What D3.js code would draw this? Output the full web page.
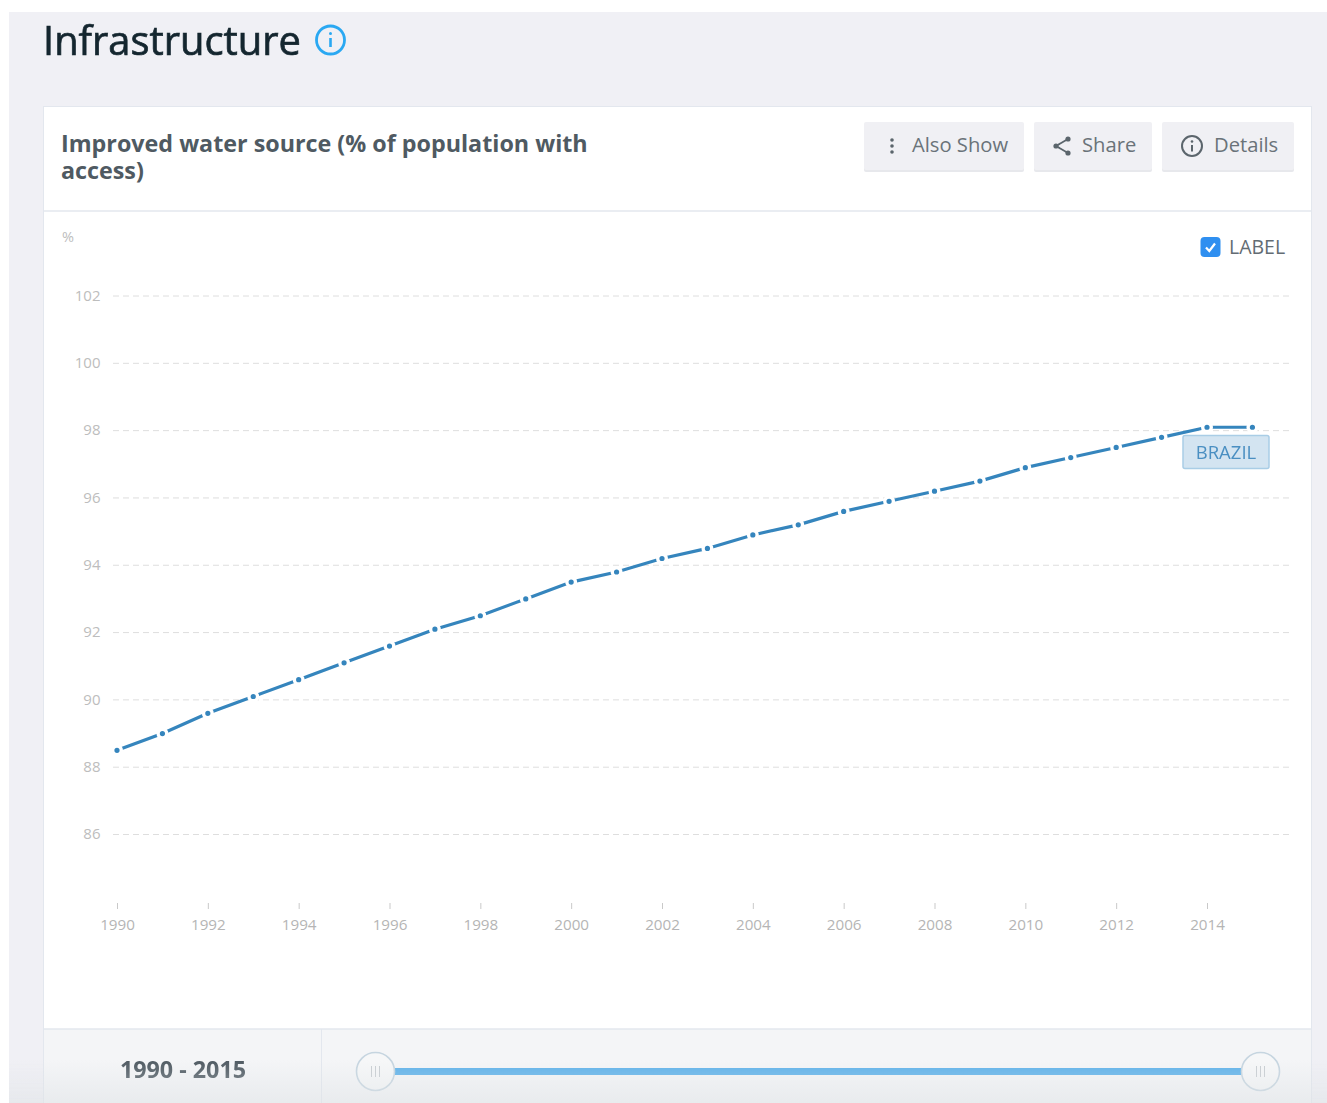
<!DOCTYPE html>
<html><head><meta charset="utf-8">
<script src="https://cdn.jsdelivr.net/npm/d3@7"></script>
<style>
html,body{margin:0;padding:0;background:#fff;overflow:hidden}
svg{display:block;font-family:"Open Sans","Noto Sans",sans-serif;filter:blur(.5px)}
.axis text{font-family:"Open Sans","Noto Sans",sans-serif}
</style></head><body><div id="chart"></div>
<script>
const pageTitle = "Infrastructure";
const titleLines = ["Improved water source (% of population with", "access)"];
const years = [1990,1991,1992,1993,1994,1995,1996,1997,1998,1999,2000,2001,2002,2003,2004,2005,2006,2007,2008,2009,2010,2011,2012,2013,2014,2015];
const values = [88.5,89.0,89.6,90.1,90.6,91.1,91.6,92.1,92.5,93.0,93.5,93.8,94.2,94.5,94.9,95.2,95.6,95.9,96.2,96.5,96.9,97.2,97.5,97.8,98.1,98.1];
const yTicks = [86,88,90,92,94,96,98,100,102];
const xTicks = [1990,1992,1994,1996,1998,2000,2002,2004,2006,2008,2010,2012,2014];
const seriesName = "BRAZIL";
const rangeLabel = "1990 - 2015";

const W=1327,H=1103;
const svg=d3.select("#chart").append("svg").attr("width",W).attr("height",H);
const defs=svg.append("defs");
const g1=defs.append("linearGradient").attr("id","fade").attr("x1",0).attr("x2",0).attr("y1",0).attr("y2",1);
g1.append("stop").attr("offset",0).attr("stop-color","#dfe3e6").attr("stop-opacity",0);
g1.append("stop").attr("offset",1).attr("stop-color","#dfe3e6").attr("stop-opacity",.55);

// page and card
svg.append("rect").attr("x",9).attr("y",12).attr("width",W-9).attr("height",H-12).attr("fill","#f0f0f5");
svg.append("text").attr("x",43).attr("y",55).attr("font-size",39.9).attr("fill","#14262f")
  .attr("stroke","#14262f").attr("stroke-width",.7).text(pageTitle);
const info=svg.append("g").attr("transform","translate(330.5,40)").attr("fill","none").attr("stroke","#2aa8f2");
info.append("circle").attr("r",14).attr("stroke-width",2.8);
info.append("line").attr("y1",-2).attr("y2",7).attr("stroke-width",2.6);
info.append("circle").attr("cy",-6.5).attr("r",1.5).attr("fill","#2aa8f2").attr("stroke","none");

svg.append("rect").attr("x",43.5).attr("y",106.5).attr("width",1268).attr("height",1010).attr("fill","#fff").attr("stroke","#e3e7ee");
svg.append("line").attr("x1",44).attr("x2",1311).attr("y1",211).attr("y2",211).attr("stroke","#e3e7ee").attr("stroke-width",1.5);
svg.append("text").attr("font-size",23.3).attr("font-weight",700).attr("fill","#4f5a62")
  .selectAll("tspan").data(titleLines).join("tspan").attr("x",61).attr("y",(d,i)=>152+i*27).text(d=>d);

// buttons
const btnX=[864,1034,1162],btnW=[160,118,132],btnT=["Also Show","Share","Details"],btnTx=[912,1082,1214];
const btnG=svg.selectAll("g.btn").data(btnT).join("g").attr("class","btn");
btnG.append("rect").attr("x",(d,i)=>btnX[i]).attr("y",124).attr("width",(d,i)=>btnW[i]).attr("height",48).attr("rx",2).attr("fill","#e7e8ec");
btnG.append("rect").attr("x",(d,i)=>btnX[i]).attr("y",122).attr("width",(d,i)=>btnW[i]).attr("height",48).attr("rx",2).attr("fill","#f0f0f4");
btnG.append("text").attr("x",(d,i)=>btnTx[i]).attr("y",152).attr("font-size",20.2).attr("fill","#6a7379").text(d=>d);
[-6,0,6].forEach(o=>svg.append("circle").attr("cx",892).attr("cy",146+o).attr("r",1.8).attr("fill","#5b656c"));
const sh=svg.append("g").attr("fill","#5b656c");
sh.append("path").attr("d","M1068,139L1056,146L1068,153").attr("fill","none").attr("stroke","#5b656c").attr("stroke-width",1.8);
[[1068,139],[1056,146],[1068,153]].forEach(p=>sh.append("circle").attr("cx",p[0]).attr("cy",p[1]).attr("r",2.6));
const di=svg.append("g").attr("transform","translate(1192,146)");
di.append("circle").attr("r",10).attr("fill","none").attr("stroke","#5b656c").attr("stroke-width",2);
di.append("line").attr("y1",-1).attr("y2",5.5).attr("stroke","#5b656c").attr("stroke-width",2);
di.append("circle").attr("cy",-4.5).attr("r",1.3).attr("fill","#5b656c");

// checkbox
svg.append("rect").attr("x",1200.5).attr("y",237).attr("width",20).attr("height",20).attr("rx",4).attr("fill","#2f8ff0");
svg.append("path").attr("d","M1206,247.5L1209.3,251L1215,243.5").attr("fill","none").attr("stroke","#fff").attr("stroke-width",2.2);
svg.append("text").attr("x",1229).attr("y",254).attr("font-size",19.5).attr("fill","#636c73").text("LABEL");

// scales
const x=d3.scaleLinear().domain([1990,2014]).range([117,1207]);
const y=d3.scaleLinear().domain([86,102]).range([834.5,296]);

const yAxis=svg.append("g").attr("class","axis").attr("transform","translate(100.5,-0.5)")
  .call(d3.axisLeft(y).tickValues(yTicks).tickSize(0).tickPadding(0).tickFormat(d3.format("d")));
yAxis.select(".domain").remove();
yAxis.selectAll("text").attr("font-size",15).attr("fill","#bdbdbd");
svg.append("g").selectAll("line").data(yTicks).join("line")
  .attr("x1",113).attr("x2",1290).attr("y1",d=>y(d)).attr("y2",d=>y(d))
  .attr("stroke","#dedede").attr("stroke-width",1).attr("stroke-dasharray","6 4");
svg.append("text").attr("x",62).attr("y",241.5).attr("font-size",14.5).attr("fill","#bdbdbd").text("%");

const xAxis=svg.append("g").attr("class","axis").attr("transform","translate(0,903)")
  .call(d3.axisBottom(x).tickValues(xTicks).tickSize(6).tickPadding(10).tickFormat(d3.format("d")));
xAxis.select(".domain").remove();
xAxis.selectAll("line").attr("stroke","#c9c9c9");
xAxis.selectAll("text").attr("font-size",15.2).attr("fill","#b5b5b5");

// series
const pts=years.map((yr,i)=>({yr,v:values[i]}));
const line=d3.line().x(d=>x(d.yr)).y(d=>y(d.v));
svg.append("path").datum(pts).attr("d",line).attr("fill","none").attr("stroke","#3585bd").attr("stroke-width",3.2);
svg.append("g").selectAll("circle").data(pts).join("circle")
  .attr("cx",d=>x(d.yr)).attr("cy",d=>y(d.v)).attr("r",4.3)
  .attr("fill","#3585bd").attr("stroke","#fff").attr("stroke-width",3.4);

// series label
svg.append("rect").attr("x",1183).attr("y",435.5).attr("width",86).attr("height",33).attr("rx",2)
  .attr("fill","#d3e4f1").attr("stroke","#a9cde6").attr("stroke-width",1.5);
svg.append("text").attr("x",1226).attr("y",459).attr("text-anchor","middle").attr("font-size",18.5).attr("fill","#4a8fc2").text(seriesName);

// range footer
svg.append("rect").attr("x",44).attr("y",1029).attr("width",1267).attr("height",80).attr("fill","#f4f5f7");
svg.append("line").attr("x1",44).attr("x2",1311).attr("y1",1029).attr("y2",1029).attr("stroke","#e3e7ee").attr("stroke-width",1.5);
svg.append("line").attr("x1",321.5).attr("x2",321.5).attr("y1",1029).attr("y2",1103).attr("stroke","#e3e7ee");
svg.append("text").attr("x",183).attr("y",1078).attr("text-anchor","middle").attr("font-size",23.3).attr("font-weight",700).attr("fill","#4f5a62").text(rangeLabel);

const sx=d3.scaleLinear().domain([1990,2015]).range([375.5,1260.5]);
svg.append("line").attr("x1",sx(1990)).attr("x2",sx(2015)).attr("y1",1071.5).attr("y2",1071.5).attr("stroke","#5fb2ea").attr("stroke-width",7);
const handles=svg.selectAll("g.h").data([1990,2015]).join("g").attr("class","h").attr("transform",d=>`translate(${sx(d)},1071.5)`);
handles.append("circle").attr("r",19).attr("fill","#f6f7f8").attr("stroke","#c6d5e0").attr("stroke-width",1.6);
[-4,0,4].forEach(o=>handles.append("line").attr("x1",o).attr("x2",o).attr("y1",-5.5).attr("y2",5.5).attr("stroke","#c8cdd1"));

// soft fade along the bottom of the capture
svg.append("rect").attr("x",9).attr("y",1060).attr("width",W-9).attr("height",43).attr("fill","url(#fade)").attr("pointer-events","none");
</script></body></html>
